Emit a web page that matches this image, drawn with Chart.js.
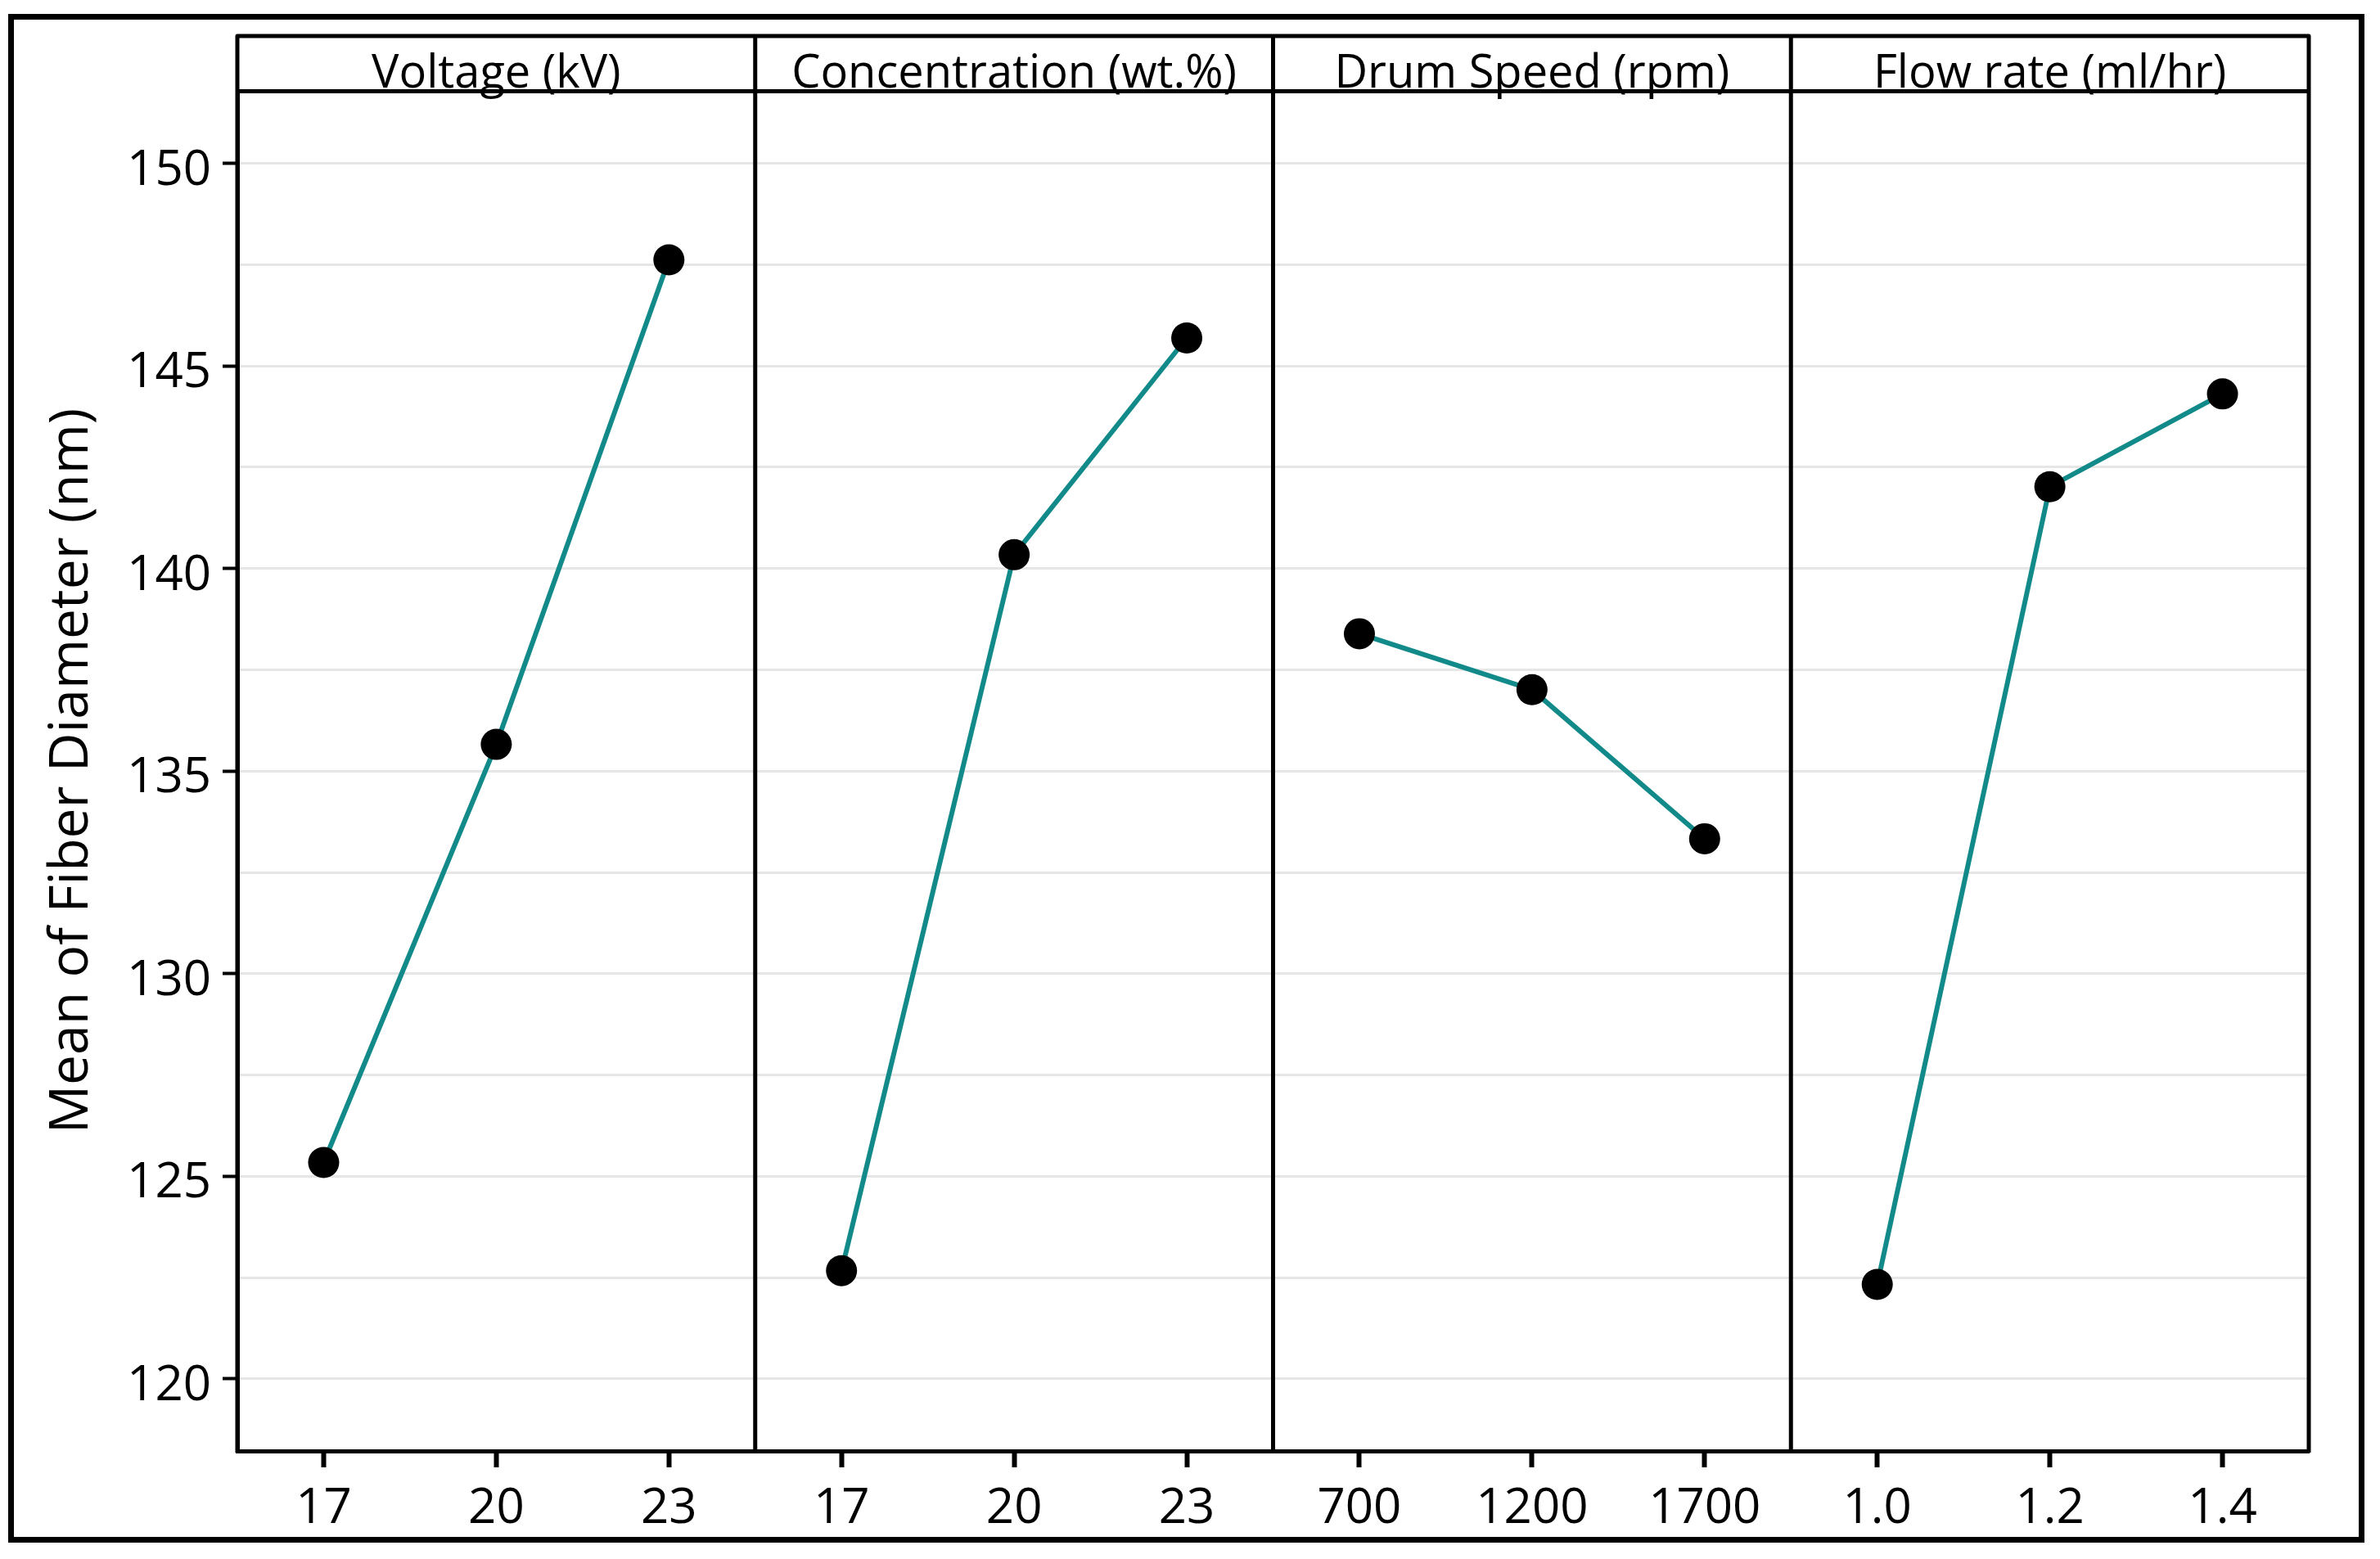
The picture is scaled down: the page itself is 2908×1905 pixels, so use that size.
<!DOCTYPE html>
<html>
<head>
<meta charset="utf-8">
<script src="https://cdn.jsdelivr.net/npm/chart.js@4/dist/chart.umd.min.js"></script>
<style>
   html, body { margin: 0; padding: 0; background: #fff; overflow: hidden; }
   #wrap { position: relative; width: 2908px; height: 1905px; }
   #frame {
      position: absolute; left: 10px; top: 17px; width: 2879px; height: 1868px;
      border: 7px solid #000; box-sizing: border-box; pointer-events: none;
   }
</style>
</head>
<body>
<div id="wrap">
   <canvas id="main-effects"></canvas>
   <div id="frame"></div>
</div>
<script>
// factor levels (x categories) per panel
const voltageLevels = ['17', '20', '23']
const concentrationLevels = ['17', '20', '23']
const drumSpeedLevels = ['700', '1200', '1700']
const flowRateLevels = ['1.0', '1.2', '1.4']

// mean of fiber diameter (nm) at each level
const voltageMeans = [125.34, 135.66, 147.62]
const concentrationMeans = [122.67, 140.34, 145.69]
const drumSpeedMeans = [138.39, 137.01, 133.33]
const flowRateMeans = [122.33, 142.02, 144.31]

const panelTitles = ['Voltage (kV)', 'Concentration (wt.%)', 'Drum Speed (rpm)', 'Flow rate (ml/hr)']
const yLabelTicks = [120, 125, 130, 135, 140, 145, 150]
const yGridStep = 2.5

const panels = [
   { levels: voltageLevels, means: voltageMeans },
   { levels: concentrationLevels, means: concentrationMeans },
   { levels: drumSpeedLevels, means: drumSpeedMeans },
   { levels: flowRateLevels, means: flowRateMeans }
]

const FONT = "'Open Sans', 'Noto Sans', sans-serif"
const LINE_COLOR = '#138a8a'

const datasets = panels.map((p, i) => ({
   label: panelTitles[i],
   data: p.means,
   xAxisID: 'x' + i,
   yAxisID: 'y',
   borderColor: LINE_COLOR,
   borderWidth: 6,
   tension: 0,
   pointStyle: 'circle',
   pointRadius: 19,
   pointHoverRadius: 19,
   pointBackgroundColor: '#000',
   pointBorderWidth: 0
}))

const scales = {
   y: {
      type: 'linear',
      position: 'left',
      min: 118.22,
      max: 151.79,
      afterFit: scale => { scale.width = 290 },
      border: { display: true, color: '#000', width: 5 },
      grid: {
         color: '#e6e6e6',
         lineWidth: 3,
         tickLength: 18,
         tickWidth: 4,
         tickColor: ctx => yLabelTicks.includes(ctx.tick.value) ? '#000' : 'rgba(0,0,0,0)'
      },
      ticks: {
         stepSize: yGridStep,
         includeBounds: false,
         padding: 14,
         labelOffset: 9,
         color: '#000',
         font: { family: FONT, size: 60 },
         callback: v => yLabelTicks.includes(v) ? String(v) : ''
      },
      title: {
         display: true,
         text: 'Mean of Fiber Diameter (nm)',
         color: '#000',
         font: { family: FONT, size: 66 },
         padding: { top: 49, bottom: 0 }
      }
   }
}

panels.forEach((p, i) => {
   scales['x' + i] = {
      type: 'category',
      position: 'bottom',
      stack: 'bottom',
      stackWeight: 1,
      labels: p.levels,
      offset: true,
      afterFit: scale => { scale.height = 110 },
      border: { display: true, color: '#000', width: 5 },
      grid: {
         drawOnChartArea: false,
         tickLength: 20,
         tickWidth: 6,
         tickColor: '#000'
      },
      ticks: {
         autoSkip: false,
         maxRotation: 0,
         padding: 15,
         color: '#000',
         font: { family: FONT, size: 60 }
      }
   }
   // header strip with the factor name (top boxes are laid out reversed, so weight keeps order)
   scales['h' + i] = {
      type: 'category',
      position: 'top',
      stack: 'top',
      stackWeight: 1,
      weight: -i,
      labels: p.levels,
      afterFit: scale => { scale.height = 67 },
      border: { display: true, color: '#000', width: 5 },
      grid: { display: false, drawTicks: false },
      ticks: { display: false },
      title: {
         display: true,
         text: panelTitles[i],
         color: '#000',
         font: { family: FONT, size: 56 },
         padding: { top: 13, bottom: 0 }
      }
   }
})

// header box outline and the vertical panel dividers
const panelFrame = {
   id: 'panelFrame',
   afterDraw(chart) {
      const { ctx, chartArea } = chart
      const head = chart.scales.h0
      ctx.save()
      ctx.strokeStyle = '#000'
      ctx.lineWidth = 5
      ctx.lineJoin = 'round'
      ctx.lineCap = 'butt'
      ctx.beginPath()
      ctx.moveTo(chartArea.left, chartArea.bottom + 2)
      ctx.lineTo(chartArea.left, head.top)
      ctx.lineTo(chartArea.right, head.top)
      ctx.lineTo(chartArea.right, chartArea.bottom + 2)
      ctx.stroke()
      for (let i = 0; i < panels.length - 1; i++) {
         const s = chart.scales['x' + i]
         ctx.beginPath()
         ctx.moveTo(s.right, head.top)
         ctx.lineTo(s.right, chartArea.bottom)
         ctx.stroke()
      }
      ctx.restore()
   }
}

new Chart(document.getElementById('main-effects'), {
   type: 'line',
   data: { datasets: datasets },
   options: {
      responsive: true,
      maintainAspectRatio: false,
      animation: false,
      layout: { padding: { top: 44, left: 0, right: 87, bottom: 22 } },
      plugins: {
         legend: { display: false },
         tooltip: { enabled: false }
      },
      scales: scales
   },
   plugins: [panelFrame]
})
</script>
</body>
</html>
